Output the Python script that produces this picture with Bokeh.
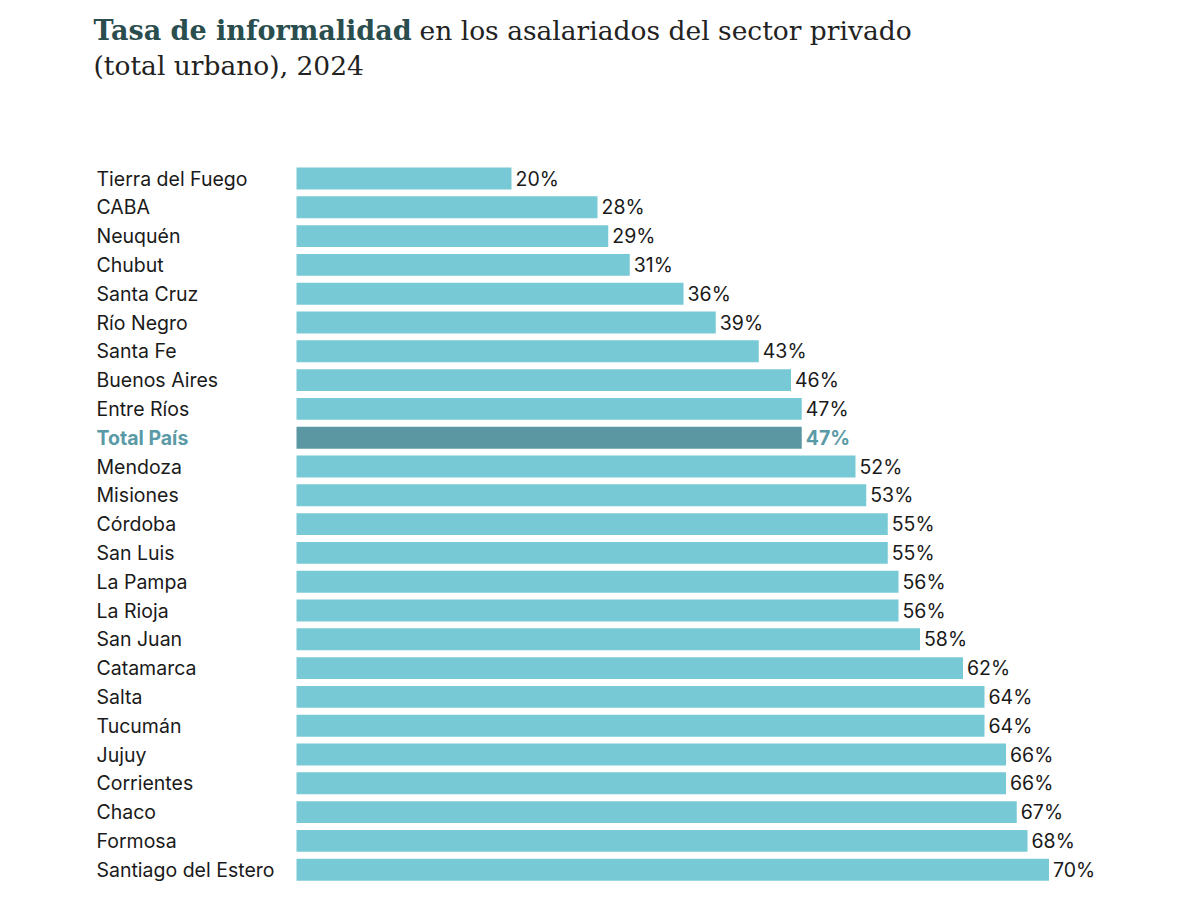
from bokeh.plotting import figure
from bokeh.models import Range1d, ColumnDataSource, Label
from bokeh.embed import file_html
from bokeh.resources import INLINE
from bokeh.core.properties import value

provinces = ["Tierra del Fuego", "CABA", "Neuquén", "Chubut", "Santa Cruz", "Río Negro",
             "Santa Fe", "Buenos Aires", "Entre Ríos", "Total País", "Mendoza", "Misiones",
             "Córdoba", "San Luis", "La Pampa", "La Rioja", "San Juan", "Catamarca", "Salta",
             "Tucumán", "Jujuy", "Corrientes", "Chaco", "Formosa", "Santiago del Estero"]
rates = [20, 28, 29, 31, 36, 39, 43, 46, 47, 47, 52, 53, 55, 55, 56, 56, 58, 62, 64, 64,
         66, 66, 67, 68, 70]
highlight = "Total País"

BAR = "#78c9d6"
BAR_HL = "#5a97a2"
TXT = "#1a1a1a"
TXT_HL = "#5a9aa6"

W, H = 1200, 900
px_per_unit = 10.75
x0_px = 296
row_px = 28.8
row0_px = 178

x_start = -x0_px / px_per_unit
x_end = (W - x0_px) / px_per_unit
y_top = -row0_px / row_px
y_bottom = (H - row0_px) / row_px

idx = list(range(len(provinces)))
is_hl = [p == highlight for p in provinces]
src = ColumnDataSource(dict(
    y=idx, name=provinces, rate=rates,
    label=[f"{v}%" for v in rates],
    fill=[BAR_HL if h else BAR for h in is_hl],
    tcol=[TXT_HL if h else TXT for h in is_hl],
    weight=["bold" if h else "normal" for h in is_hl],
    lx=[x_start + 96 / px_per_unit] * len(provinces),
))

p = figure(width=W, height=H, x_range=Range1d(x_start, x_end),
           y_range=Range1d(y_bottom, y_top), output_backend="svg",
           toolbar_location=None, min_border=0, outline_line_color=None,
           background_fill_color="white", border_fill_color="white")
p.axis.visible = False
p.grid.visible = False

p.hbar(y="y", left=0, right="rate", height=0.76, fill_color="fill",
       line_color=None, source=src)

p.text(x="lx", y="y", text="name", text_color="tcol", text_font_style="weight",
       text_font=value("Inter"), text_font_size="19.5px", text_baseline="middle",
       text_align="left", source=src)
p.text(x="rate", y="y", text="label", text_color="tcol", text_font_style="weight",
       text_font=value("Inter"), text_font_size="19.5px", text_baseline="middle",
       text_align="left", x_offset=4, source=src)

title_font = "DejaVu Serif"
p.add_layout(Label(x=93, y=H - 30, x_units="screen", y_units="screen",
                   text="Tasa de informalidad", text_font=title_font,
                   text_font_style="bold", text_font_size="27px",
                   text_color="#2a4d4e", text_baseline="alphabetic"))
p.add_layout(Label(x=419, y=H - 30, x_units="screen", y_units="screen",
                   text="en los asalariados del sector privado", text_font=title_font,
                   text_font_size="26.5px", text_color="#222222",
                   text_baseline="alphabetic"))
p.add_layout(Label(x=93, y=H - 65, x_units="screen", y_units="screen",
                   text="(total urbano), 2024", text_font=title_font,
                   text_font_size="26.5px", text_color="#222222",
                   text_baseline="alphabetic"))

open("out.html", "w").write(file_html(p, INLINE))
